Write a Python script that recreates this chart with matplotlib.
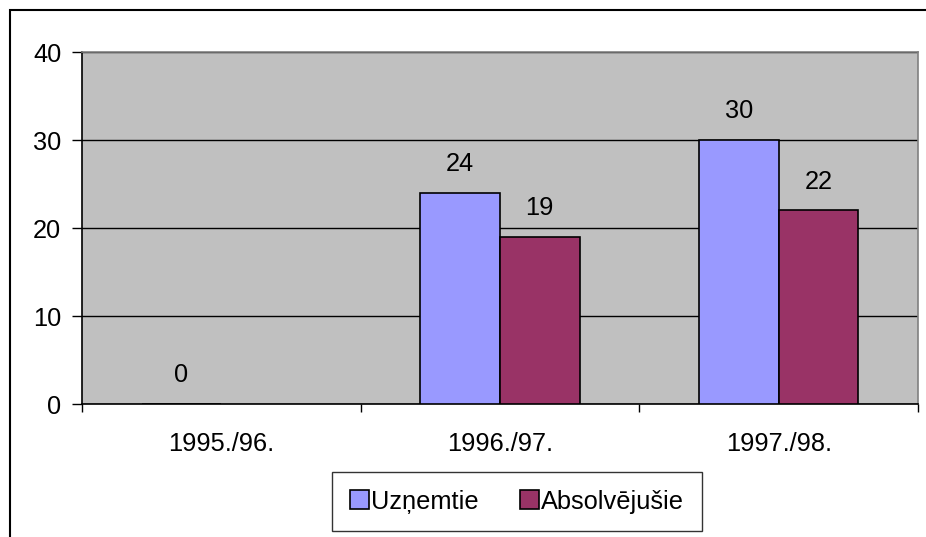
import numpy as np
import matplotlib
matplotlib.use("Agg")
import matplotlib.pyplot as plt
from matplotlib.patches import Rectangle

categories = ["1995./96.", "1996./97.", "1997./98."]
uznemtie = [0, 24, 30]
absolvejusie = [np.nan, 19, 22]
series_names = ["Uzņemtie", "Absolvējušie"]
yticks = [0, 10, 20, 30, 40]

plt.rcParams['font.family'] = ['Liberation Sans', 'DejaVu Sans']
FS = 18.3

W, H = 926, 537
fig = plt.figure(figsize=(W/100, H/100), dpi=100)
ax = fig.add_axes([82/W, (H-404)/H, (918-82)/W, (404-52)/H])
ax.set_facecolor('#C0C0C0')

x = np.arange(len(categories))
bw = 0.2857
b1 = ax.bar(x - bw/2, uznemtie, bw, color='#9999FF', edgecolor='black', lw=1.2, label=series_names[0], zorder=3)
b2 = ax.bar(x + bw/2, absolvejusie, bw, color='#993366', edgecolor='black', lw=1.2, label=series_names[1], zorder=3)

for bars, vals in ((b1, uznemtie), (b2, absolvejusie)):
    for rect, v in zip(bars, vals):
        if np.isnan(v):
            continue
        ax.annotate(f"{v:g}", (rect.get_x() + rect.get_width()/2, v),
                    xytext=(0, 12), textcoords='offset points',
                    ha='center', va='bottom', fontsize=FS)

ax.set_xlim(-0.5, 2.5)
ax.set_ylim(0, 40)
ax.set_yticks(yticks)
ax.set_yticklabels([str(t) for t in yticks], fontsize=FS)
ax.yaxis.grid(True, color='black', lw=1.0, zorder=1)
ax.set_axisbelow(True)

ax.set_xticks([0.5 + i for i in range(-1, len(categories))])
ax.set_xticklabels([])
ax.set_xticks(x, minor=True)
ax.set_xticklabels(categories, minor=True, fontsize=FS)
ax.tick_params(axis='x', which='major', direction='out', length=6, width=1, color='black')
ax.tick_params(axis='x', which='minor', length=0, pad=20)
ax.tick_params(axis='y', direction='out', length=7, width=1, color='black', pad=8)

for s in ('top', 'right'):
    ax.spines[s].set_color('#808080')
    ax.spines[s].set_linewidth(1.2)
for s in ('left', 'bottom'):
    ax.spines[s].set_color('black')
    ax.spines[s].set_linewidth(1.2)

leg = fig.legend(handles=[b1, b2], loc='center', bbox_to_anchor=(517/W, 1-501.5/H),
                 ncol=2, fontsize=FS, frameon=True, fancybox=False,
                 edgecolor='black', handlelength=0.75, handleheight=0.75,
                 handletextpad=0.1, columnspacing=1.6, borderpad=0.7, borderaxespad=0)
leg.get_frame().set_linewidth(1.0)

fig.add_artist(Rectangle((10/W, -0.1), 1.2, 1 - 10/H + 0.1, fill=False,
                         transform=fig.transFigure, lw=1.5, edgecolor='black'))

fig.savefig('out.png', dpi=100)
